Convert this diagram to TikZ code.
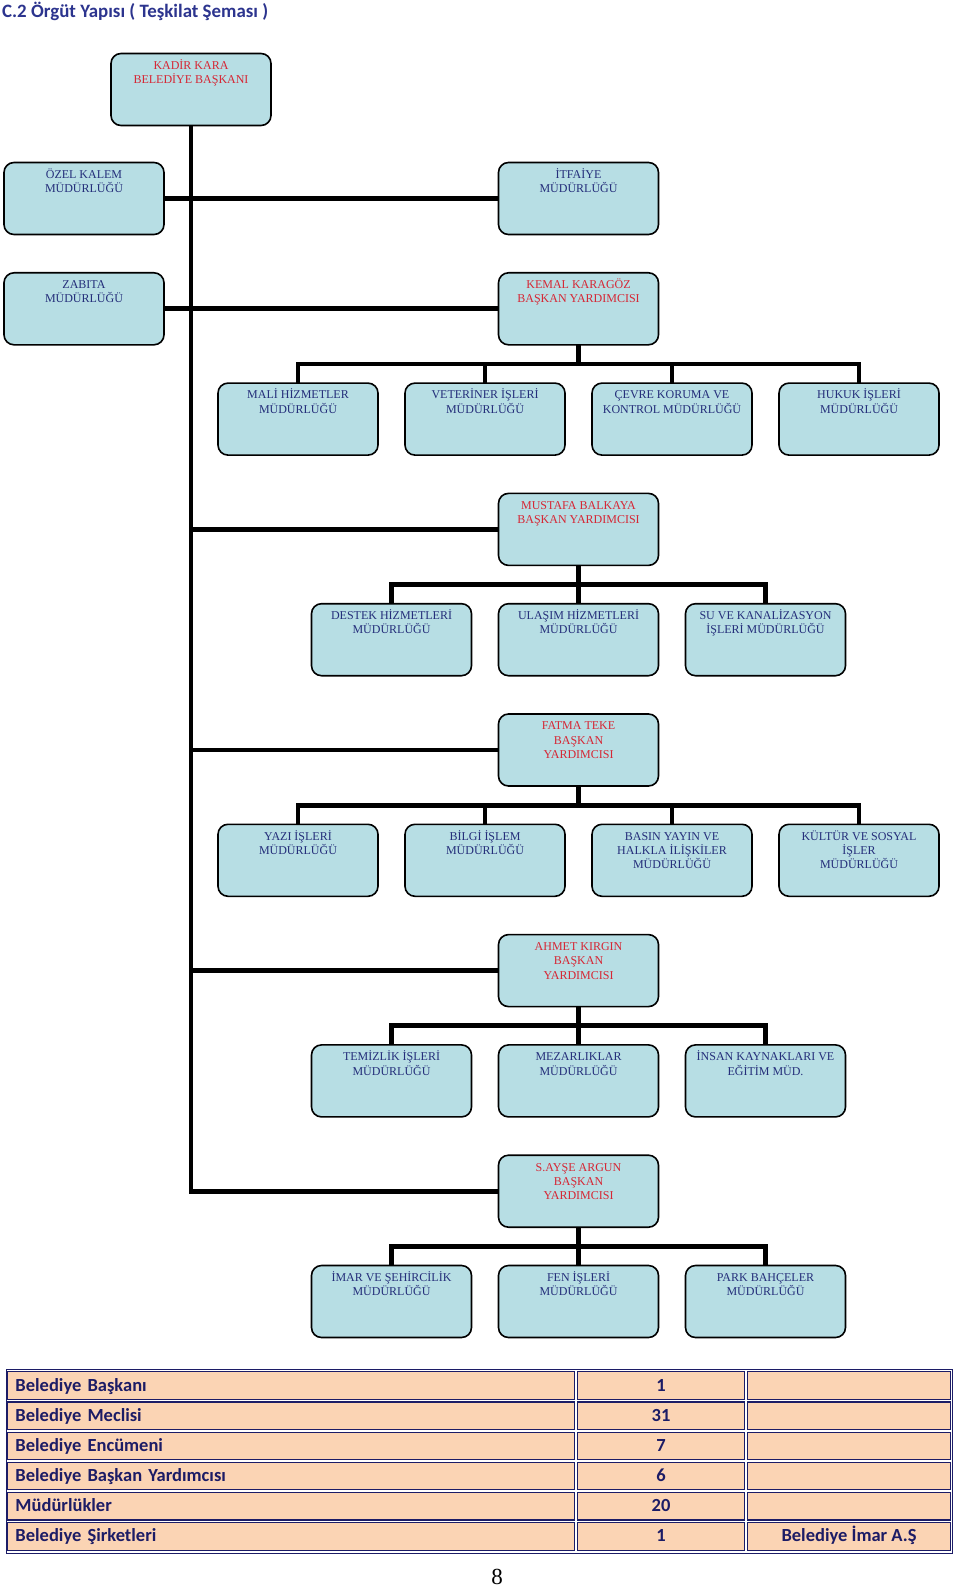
\documentclass[tikz,border=0pt]{standalone}
\usepackage{fontspec}
\setmainfont{Liberation Serif}
\newfontfamily\calibri{Carlito}
\usepackage{xcolor}
\usetikzlibrary{positioning}

\definecolor{boxblue}{RGB}{183,222,228}
\definecolor{unitnavy}{RGB}{36,46,122}
\definecolor{deputyred}{RGB}{214,38,52}
\definecolor{peach}{RGB}{251,212,180}
\definecolor{tablenavy}{RGB}{28,28,102}
\definecolor{titleblue}{RGB}{44,52,142}

\newcommand{\toptext}[1]{\parbox[c][72pt][t]{156pt}{\centering\rule{0pt}{15.8pt}#1}}

\begin{document}
\begin{tikzpicture}[
    x=1pt, y=1pt,
    node distance=38.3pt and 27pt,
    unit/.style={draw=black, line width=1.6pt, rounded corners=10pt, fill=boxblue,
                 minimum width=160pt, minimum height=72pt, inner sep=0pt, outer sep=0pt,
                 font=\fontsize{12}{14.4}\selectfont, text=#1},
    unit/.default=unitnavy,
    link/.style={line width=4.8pt, draw=black},
    cell/.style={draw=tablenavy, line width=1.2pt, fill=peach, minimum height=27.5pt,
                 inner sep=0pt, text height=14.5pt, text depth=3.5pt,
                 font=\calibri\bfseries\fontsize{18.5}{20}\selectfont, text=tablenavy}
]
\useasboundingbox (0,0) rectangle (960,-1586);

% Title
\node[anchor=base west, inner sep=0pt, text=titleblue,
      font=\calibri\bfseries\fontsize{18.9}{22}\selectfont] (title) at (2,-18)
      {C.2 Örgüt Yapısı ( Teşkilat Şeması )};

% Mayor and units tied to him
\node[unit=deputyred] (kadir) at (191,-89.5) {\toptext{KADİR KARA\\BELEDİYE BAŞKANI}};
\node[unit] (ozel) at (84,-198.5) {\toptext{ÖZEL KALEM\\MÜDÜRLÜĞÜ}};
\node[unit] (itfaiye) at (578.5,-198.5) {\toptext{İTFAİYE\\MÜDÜRLÜĞÜ}};
\node[unit, below=of ozel] (zabita) {\toptext{ZABITA\\MÜDÜRLÜĞÜ}};
\node[unit=deputyred, below=of itfaiye] (kemal) {\toptext{KEMAL KARAGÖZ\\BAŞKAN YARDIMCISI}};

% Kemal Karagoz
\node[unit, below=of kemal, xshift=-93.5pt] (veteriner) {\toptext{VETERİNER İŞLERİ\\MÜDÜRLÜĞÜ}};
\node[unit, left=of veteriner] (mali) {\toptext{MALİ HİZMETLER\\MÜDÜRLÜĞÜ}};
\node[unit, below=of kemal, xshift=93.5pt] (cevre) {\toptext{ÇEVRE KORUMA VE\\KONTROL MÜDÜRLÜĞÜ}};
\node[unit, right=of cevre] (hukuk) {\toptext{HUKUK İŞLERİ\\MÜDÜRLÜĞÜ}};

% Mustafa Balkaya
\node[unit=deputyred, below=148.6pt of kemal] (mustafa) {\toptext{MUSTAFA BALKAYA\\BAŞKAN YARDIMCISI}};
\node[unit, below=of mustafa] (ulasim) {\toptext{ULAŞIM HİZMETLERİ\\MÜDÜRLÜĞÜ}};
\node[unit, left=of ulasim] (destek) {\toptext{DESTEK HİZMETLERİ\\MÜDÜRLÜĞÜ}};
\node[unit, right=of ulasim] (su) {\toptext{SU VE KANALİZASYON\\İŞLERİ MÜDÜRLÜĞÜ}};

% Fatma Teke
\node[unit=deputyred, below=of ulasim] (fatma) {\toptext{FATMA TEKE\\BAŞKAN\\YARDIMCISI}};
\node[unit, below=of fatma, xshift=-93.5pt] (bilgi) {\toptext{BİLGİ İŞLEM\\MÜDÜRLÜĞÜ}};
\node[unit, left=of bilgi] (yazi) {\toptext{YAZI İŞLERİ\\MÜDÜRLÜĞÜ}};
\node[unit, below=of fatma, xshift=93.5pt] (basin) {\toptext{BASIN YAYIN VE\\HALKLA İLİŞKİLER\\MÜDÜRLÜĞÜ}};
\node[unit, right=of basin] (kultur) {\toptext{KÜLTÜR VE SOSYAL\\İŞLER\\MÜDÜRLÜĞÜ}};

% Ahmet Kirgin
\node[unit=deputyred, below=148.6pt of fatma] (ahmet) {\toptext{AHMET KIRGIN\\BAŞKAN\\YARDIMCISI}};
\node[unit, below=of ahmet] (mezarlik) {\toptext{MEZARLIKLAR\\MÜDÜRLÜĞÜ}};
\node[unit, left=of mezarlik] (temizlik) {\toptext{TEMİZLİK İŞLERİ\\MÜDÜRLÜĞÜ}};
\node[unit, right=of mezarlik] (insan) {\toptext{İNSAN KAYNAKLARI VE\\EĞİTİM MÜD.}};

% Ayse Argun
\node[unit=deputyred, below=of mezarlik] (ayse) {\toptext{S.AYŞE ARGUN\\BAŞKAN\\YARDIMCISI}};
\node[unit, below=of ayse] (fen) {\toptext{FEN İŞLERİ\\MÜDÜRLÜĞÜ}};
\node[unit, left=of fen] (imar) {\toptext{İMAR VE ŞEHİRCİLİK\\MÜDÜRLÜĞÜ}};
\node[unit, right=of fen] (park) {\toptext{PARK BAHÇELER\\MÜDÜRLÜĞÜ}};

% Trunk
\draw[link] (kadir) -- (kadir |- ayse) -- (ayse);
\draw[link] (ozel) -- (itfaiye);
\draw[link] (zabita) -- (kemal);
\foreach \dep in {mustafa,fatma,ahmet}
  \draw[link] (\dep) -- (\dep -| kadir);

% Buses
\coordinate[below=19.15pt of kemal] (kemalbus);
\draw[link] (kemal) -- (kemalbus);
\draw[link] (mali) |- (kemalbus) -| (hukuk);
\draw[link] (veteriner) -- (veteriner |- kemalbus);
\draw[link] (cevre) -- (cevre |- kemalbus);

\coordinate[below=19.15pt of mustafa] (mustafabus);
\draw[link] (mustafa) -- (ulasim);
\draw[link] (destek) |- (mustafabus) -| (su);

\coordinate[below=19.15pt of fatma] (fatmabus);
\draw[link] (fatma) -- (fatmabus);
\draw[link] (yazi) |- (fatmabus) -| (kultur);
\draw[link] (bilgi) -- (bilgi |- fatmabus);
\draw[link] (basin) -- (basin |- fatmabus);

\coordinate[below=19.15pt of ahmet] (ahmetbus);
\draw[link] (ahmet) -- (mezarlik);
\draw[link] (temizlik) |- (ahmetbus) -| (insan);

\coordinate[below=19.15pt of ayse] (aysebus);
\draw[link] (ayse) -- (fen);
\draw[link] (imar) |- (aysebus) -| (park);

% Table
\node[draw=tablenavy, line width=1pt, minimum width=946pt, minimum height=184pt,
      inner sep=0pt] (table) at (479,-1461) {};
\foreach \rowname/\amount/\firm [count=\i] in {Belediye Başkanı/1/{}, Belediye Meclisi/31/{},
    Belediye Encümeni/7/{}, Belediye Başkan Yardımcısı/6/{}, Müdürlükler/20/{},
    Belediye Şirketleri/1/Belediye İmar A.Ş}{
  \pgfmathsetmacro{\rowy}{-1369-16.6-(\i-1)*30.17}
  \node[cell, minimum width=567pt, text width=551pt, align=left] (name\i) at (291,\rowy) {\rowname};
  \node[cell, minimum width=167pt] (amount\i) at (661,\rowy) {\amount};
  \node[cell, minimum width=203pt] (firm\i) at (849,\rowy) {\firm};
}

% Page number
\node[anchor=base, inner sep=0pt, font=\fontsize{23}{26}\selectfont] (page) at (497,-1584) {8};

\end{tikzpicture}
\end{document}
